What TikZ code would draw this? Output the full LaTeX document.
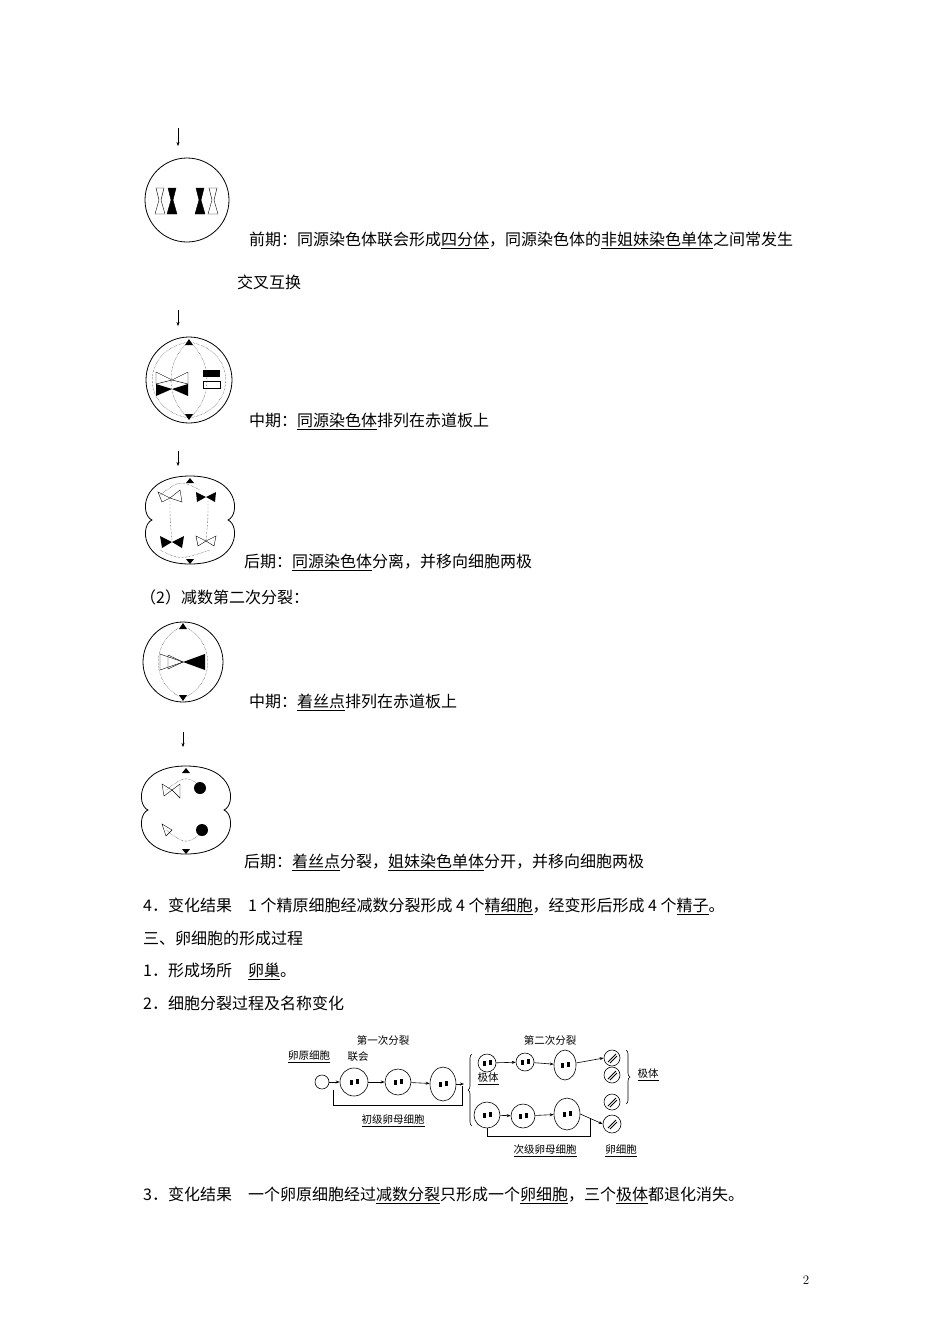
\documentclass[tikz,border=0pt]{standalone}
\usepackage{fontspec}
\newfontfamily\cjk{Noto Sans CJK SC}
\usetikzlibrary{decorations.pathreplacing,arrows.meta,shapes.geometric}
\begin{document}
\begin{tikzpicture}[x=1pt,y=-1pt,
  txt/.style={anchor=west,inner sep=0pt,font=\cjk\fontsize{16}{18}\selectfont},
  sm/.style={inner sep=0pt,font=\cjk\fontsize{10.5}{12}\selectfont},
  cell/.style={draw,thick,circle},
  down/.style={-{Stealth[length=4pt]},thin},
  fl/.style={-{Stealth[length=4pt]},semithick},
  dots/.style={densely dotted,thin}]
\useasboundingbox[fill=white] (0,0) rectangle (950,1344);
% stage 1 prophase
\coordinate (a0) at (178,128); \coordinate (a1) at (178,146);
\draw[down] (a0) -- (a1);
\node[cell,minimum size=84pt] (c1) at (187,200) {};
\foreach \x/\f in {160/white,172/black,200/black,213/white}{
 \draw[fill=\f] (\x-4,188) -- (\x+4,188) -- (\x+1,200) -- (\x+5,214) -- (\x-5,214) -- (\x-1,200) -- cycle;}
\node[txt] (t1) at (249,240) {前期：同源染色体联会形成\underline{四分体}，同源染色体的\underline{非姐妹染色单体}之间常发生};
\node[txt] (t1b) at (237,282) {交叉互换};
% metaphase I
\draw[down] (178,310) -- (178,326);
\node[cell,minimum size=86pt] (c2) at (189,380) {};
\draw[dots] (189,342) .. controls (140,350) and (140,410) .. (189,418);
\draw[dots] (189,342) .. controls (238,350) and (238,410) .. (189,418);
\draw[dots] (189,342) .. controls (165,360) and (165,400) .. (189,418);
\draw[dots] (189,342) .. controls (213,360) and (213,400) .. (189,418);
\fill (185,345) -- (193,345) -- (189,339) -- cycle;
\fill (185,414) -- (193,414) -- (189,420) -- cycle;
\draw (156,372) -- (172,380) -- (156,384) -- cycle; \draw (188,372) -- (172,380) -- (188,384) -- cycle;
\fill (156,384) -- (172,389) -- (156,396) -- cycle; \fill (188,384) -- (172,389) -- (188,396) -- cycle;
\fill (203,370) rectangle (220,377); \draw (203,381) rectangle (220,388);
\node[txt] (t2) at (249,421) {中期：\underline{同源染色体}排列在赤道板上};
% anaphase I
\draw[down] (178,451) -- (178,466);
\draw[thick] (190,476) .. controls (240,476) and (240,515) .. (228,520) .. controls (240,525) and (240,564) .. (190,564) .. controls (140,564) and (140,525) .. (152,520) .. controls (140,515) and (140,476) .. (190,476) -- cycle;
\draw[dots] (170,500) .. controls (170,520) .. (172,540);
\draw[dots] (208,500) .. controls (208,520) .. (206,540);
\draw[dots] (160,495) .. controls (180,480) .. (200,490);
\draw[dots] (160,550) .. controls (180,560) .. (210,550);
\fill (186,483) -- (194,483) -- (190,478) -- cycle; \fill (186,559) -- (194,559) -- (190,564) -- cycle;
\draw (170,498) -- (158,492) -- (162,502) -- cycle; \draw (170,498) -- (180,490) -- (182,502) -- cycle;
\fill (206,497) -- (196,492) -- (197,502) -- cycle; \fill (206,497) -- (216,492) -- (215,502) -- cycle;
\fill (172,542) -- (160,536) -- (162,548) -- cycle; \fill (172,542) -- (184,536) -- (182,548) -- cycle;
\draw (206,541) -- (196,536) -- (198,546) -- cycle; \draw (206,541) -- (216,536) -- (214,546) -- cycle;
\node[txt] (t3) at (244,562) {后期：\underline{同源染色体}分离，并移向细胞两极};
\node[txt] (h2) at (140,597) {（2）减数第二次分裂：};
% metaphase II
\node[cell,minimum size=80pt] (c4) at (183,662) {};
\draw[dots] (183,626) .. controls (150,640) and (150,685) .. (183,698);
\draw[dots] (183,626) .. controls (216,640) and (216,685) .. (183,698);
\fill (179,629) -- (187,629) -- (183,623) -- cycle; \fill (179,695) -- (187,695) -- (183,701) -- cycle;
\draw (160,654) -- (183,662) -- (160,670) -- cycle; \draw (183,662) -- (168,655) -- (168,669) -- cycle;
\fill (205,654) -- (183,662) -- (205,670) -- cycle;
\node[txt] (t4) at (249,702) {中期：\underline{着丝点}排列在赤道板上};
% anaphase II
\draw[down] (183,732) -- (183,747);
\draw[thick] (186,766) .. controls (236,766) and (236,805) .. (224,810) .. controls (236,815) and (236,854) .. (186,854) .. controls (136,854) and (136,815) .. (148,810) .. controls (136,805) and (136,766) .. (186,766) -- cycle;
\draw[dots] (166,790) .. controls (186,775) .. (206,790);
\draw[dots] (166,830) .. controls (186,845) .. (206,830);
\fill (182,773) -- (190,773) -- (186,768) -- cycle; \fill (182,849) -- (190,849) -- (186,854) -- cycle;
\draw (172,790) -- (162,784) -- (164,796) -- cycle; \draw (172,790) -- (180,784) -- (180,798) -- cycle;
\fill (200,788) circle (6);
\draw (172,830) -- (162,824) -- (166,836) -- cycle;
\fill (202,830) circle (6);
\node[txt] (t5) at (244,862) {后期：\underline{着丝点}分裂，\underline{姐妹染色单体}分开，并移向细胞两极};
\node[txt] (l4) at (143,906) {4．变化结果\quad 1 个精原细胞经减数分裂形成 4 个\underline{精细胞}，经变形后形成 4 个\underline{精子}。};
\node[txt] (l5) at (143,938) {三、卵细胞的形成过程};
\node[txt] (l6) at (143,971) {1．形成场所\quad \underline{卵巢}。};
\node[txt] (l7) at (143,1003) {2．细胞分裂过程及名称变化};
% oogenesis diagram
\node[sm] (s1) at (383,1040) {第一次分裂};
\node[sm] (s2) at (550,1040) {第二次分裂};
\node[sm] (oo) at (309,1057) {\underline{卵原细胞}};
\node[sm] (lh) at (358,1057) {联会};
\node[draw,semithick,circle,minimum size=14pt,inner sep=0pt] (d0) at (322,1082) {};
\node[draw,semithick,circle,minimum size=28pt,inner sep=0pt] (d1) at (354,1082) {};
\node[draw,semithick,circle,minimum size=26pt,inner sep=0pt] (d2) at (398,1082) {};
\node[draw,semithick,ellipse,minimum width=26pt,minimum height=34pt,inner sep=0pt] (d3) at (443,1084) {};
\draw[fl] (d0) -- (d1); \draw[fl] (d1) -- (d2); \draw[fl] (d2) -- (d3);
\coordinate (br1) at (464,1084); \draw[fl] (d3) -- (br1);
\draw[semithick,decorate,decoration={brace,amplitude=4pt}] (472,1126) -- (472,1054);
\draw[semithick] (333,1090) -- (333,1105) -- (462,1105) -- (462,1086);
\node[sm] (cj) at (393,1121) {\underline{初级卵母细胞}};
% upper row
\node[draw,semithick,circle,minimum size=18pt,inner sep=0pt] (e1) at (487,1063) {};
\node[draw,semithick,circle,minimum size=18pt,inner sep=0pt] (e2) at (525,1062) {};
\node[draw,semithick,ellipse,minimum width=22pt,minimum height=30pt,inner sep=0pt] (e3) at (565,1065) {};
\node[draw,semithick,circle,minimum size=16pt,inner sep=0pt] (p1) at (612,1058) {};
\node[draw,semithick,circle,minimum size=16pt,inner sep=0pt] (p2) at (612,1075) {};
\draw[fl] (e1) -- (e2); \draw[fl] (e2) -- (e3); \draw[fl] (e3) -- (p1.west);
\node[sm] (jt) at (488,1079) {\underline{极体}};
% lower row
\node[draw,semithick,circle,minimum size=26pt,inner sep=0pt] (f1) at (487,1115) {};
\node[draw,semithick,circle,minimum size=24pt,inner sep=0pt] (f2) at (523,1116) {};
\node[draw,semithick,ellipse,minimum width=26pt,minimum height=32pt,inner sep=0pt] (f3) at (567,1114) {};
\node[draw,semithick,circle,minimum size=16pt,inner sep=0pt] (p3) at (612,1102) {};
\node[draw,semithick,circle,minimum size=18pt,inner sep=0pt] (egg) at (612,1124) {};
\draw[fl] (f1) -- (f2); \draw[fl] (f2) -- (f3); \draw[fl] (f3.east) -- (egg.west);
\foreach \n in {p1,p2,p3,egg}{\draw[thick] ([shift={(-4,4)}]\n.center) -- ([shift={(4,-4)}]\n.center); \draw[thick] ([shift={(-2,5)}]\n.center) -- ([shift={(5,-2)}]\n.center);}
\draw[semithick] (487,1128) -- (487,1136) -- (590,1136) -- (590,1118);
\draw[semithick,decorate,decoration={brace,amplitude=4pt}] (626,1050) -- (626,1104);
\node[sm] (jt2) at (648,1075) {\underline{极体}};
\node[sm] (cj2) at (545,1151) {\underline{次级卵母细胞}};
\node[sm] (ec) at (621,1151) {\underline{卵细胞}};
% symbols inside cells
\foreach \n in {d1,d2,d3,e1,e2,e3,f1,f2,f3}{\fill ([shift={(-4,-2)}]\n.center) rectangle ([shift={(-1,3)}]\n.center); \fill ([shift={(2,-3)}]\n.center) rectangle ([shift={(5,2)}]\n.center);}
\node[txt] (l8) at (143,1195) {3．变化结果\quad 一个卵原细胞经过\underline{减数分裂}只形成一个\underline{卵细胞}，三个\underline{极体}都退化消失。};
\node[inner sep=0pt,font=\fontsize{13}{15}\selectfont] (pg) at (806,1280) {2};
\end{tikzpicture}
\end{document}
